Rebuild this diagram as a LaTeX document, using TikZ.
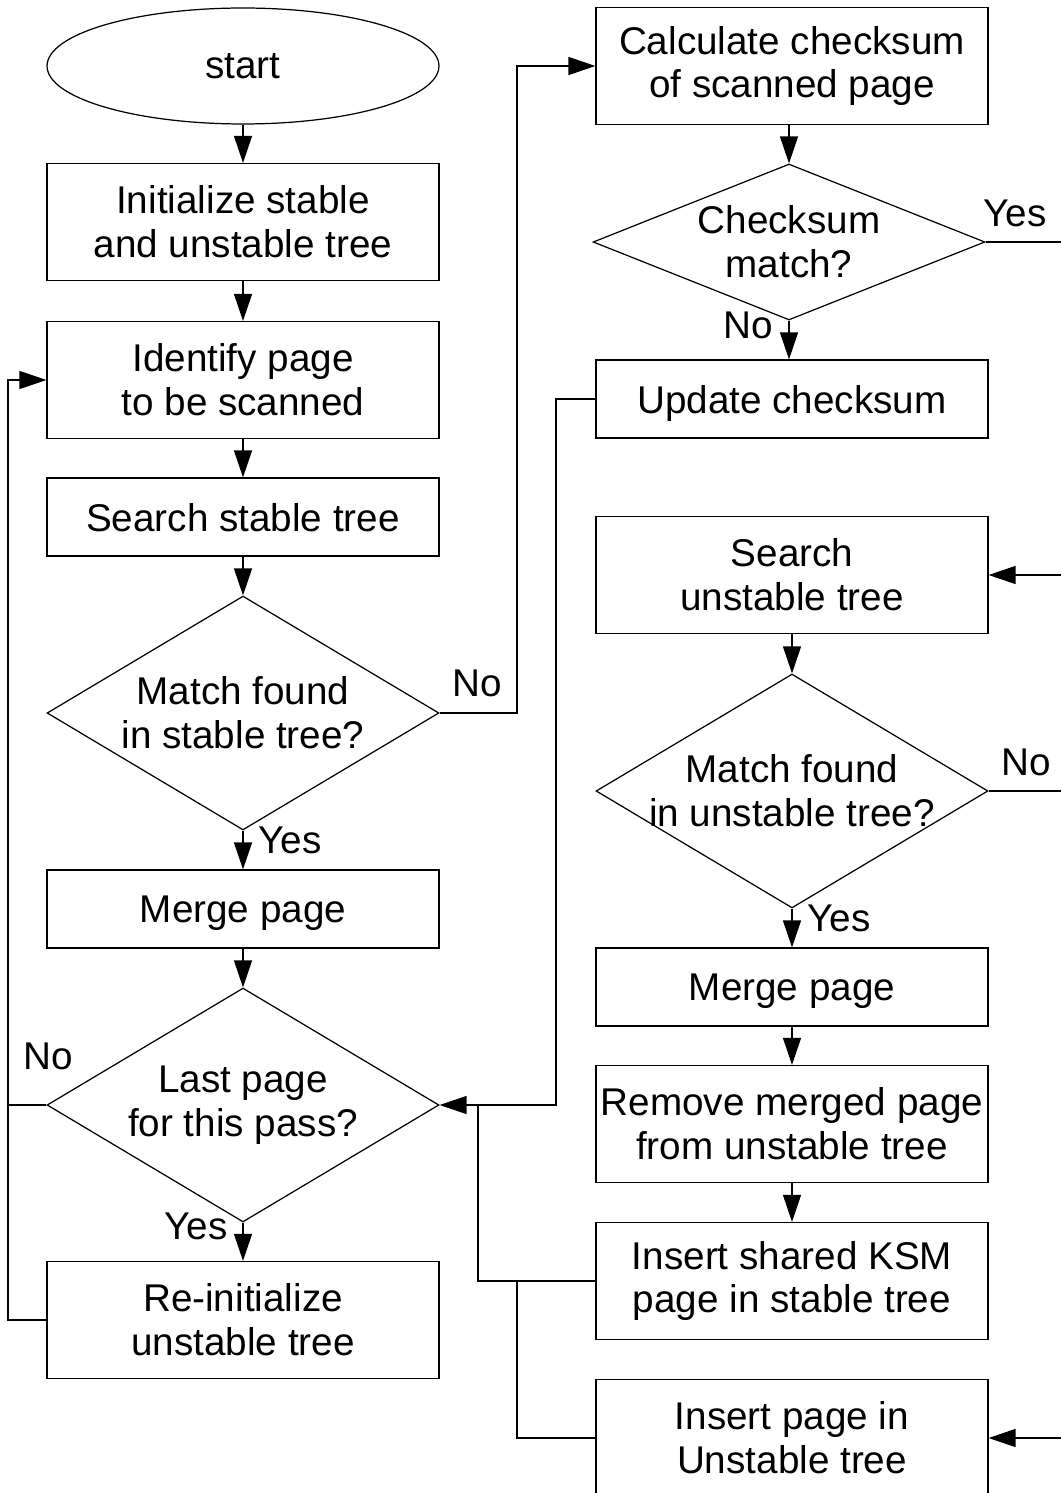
\documentclass[tikz,border=0pt]{standalone}
\usepackage{fontspec}
\setmainfont{Liberation Sans}
\usetikzlibrary{arrows.meta,shapes.geometric}

\tikzset{
  box/.style={draw, minimum width=7.84cm, minimum height=2.34cm, align=center, inner sep=0pt},
  lowbox/.style={box, minimum height=1.56cm, text depth=0pt},
  decide/.style={draw, diamond, aspect=1.675, minimum width=7.84cm, minimum height=4.68cm, align=center, inner sep=0pt},
  flow/.style={-{Triangle[length=5.4mm,width=3.6mm]}}
}

\begin{document}
\begin{tikzpicture}[x=0.02cm,y=-0.02cm,font=\fontsize{22}{25}\selectfont,line width=0.7pt]
  \useasboundingbox (0,0) rectangle (1061,1493);

  % left column
  \node[draw,ellipse,minimum width=7.84cm,minimum height=2.32cm] (start) at (243,66) {start};
  \node[box] (init) at (243,222) {Initialize stable\\and unstable tree};
  \node[box] (ident) at (243,380) {Identify page\\to be scanned};
  \node[lowbox] (sstable) at (243,517) {Search stable tree};
  \node[decide] (mstable) at (243,713) {Match found\\in stable tree?};
  \node[lowbox] (merge1) at (243,909) {Merge page};
  \node[decide] (last) at (243,1105) {Last page\\for this pass?};
  \node[box] (reinit) at (243,1320) {Re-initialize\\unstable tree};

  % right column
  \node[box] (calc) at (792,66) {Calculate checksum\\of scanned page};
  \node[decide,aspect=2.5,minimum height=3.12cm] (chk) at (789,242) {Checksum\\match?};
  \node[lowbox] (upd) at (792,399) {Update checksum};
  \node[box] (sunst) at (792,575) {Search\\unstable tree};
  \node[decide,inner xsep=-0.4cm] (munst) at (792,791) {Match found\\in unstable tree?};
  \node[lowbox] (merge2) at (792,987) {Merge page};
  \node[box] (remove) at (792,1124) {Remove merged page\\from unstable tree};
  \node[box] (ksm) at (792,1281) {Insert shared KSM\\page in stable tree};
  \node[box] (insert) at (792,1438) {Insert page in\\Unstable tree};

  \coordinate (lft) at (8,0);
  \coordinate (ksmret) at (478,0);
  \coordinate (gap) at (517,0);
  \coordinate (ret) at (556,0);
  \coordinate (rgt) at (1061,0);

  \draw[flow] (start) -- (init);
  \draw[flow] (init) -- (ident);
  \draw[flow] (ident) -- (sstable);
  \draw[flow] (sstable) -- (mstable);
  \draw[flow] (mstable) -- (merge1);
  \draw[flow] (merge1) -- (last);
  \draw[flow] (last) -- (reinit);
  \draw[flow] (calc.south -| chk) -- (chk);
  \draw[flow] (chk.south) -- (chk.south |- upd.north);
  \draw[flow] (sunst) -- (munst);
  \draw[flow] (munst) -- (merge2);
  \draw[flow] (merge2) -- (remove);
  \draw[flow] (remove) -- (ksm);

  \draw[flow] (reinit.west) -- (reinit.west -| lft) |- (ident.west);
  \draw (last.west) -- (last.west -| lft);
  \draw[flow] (mstable.east) -- (mstable.east -| gap) |- (calc.west);
  \draw[flow] (upd.west) -- (upd.west -| ret) |- (last.east);
  \draw (ksm.west) -- (ksm.west -| ksmret) -- (ksmret |- last.east);
  \draw (insert.west) -- (insert.west -| gap) -- (gap |- ksm.west);
  \draw (chk.east) -- (chk.east -| rgt);
  \draw[flow] (sunst.east -| rgt) -- (sunst.east);
  \draw (munst.east) -- (munst.east -| rgt);
  \draw[flow] (insert.east -| rgt) -- (insert.east);

  \node (yes1) at (1015,213) {Yes};
  \node (no1) at (748,325) {No};
  \node (no2) at (477,683) {No};
  \node (yes2) at (290,840) {Yes};
  \node (no3) at (48,1056) {No};
  \node (yes3) at (196,1226) {Yes};
  \node (no4) at (1026,762) {No};
  \node (yes4) at (839,918) {Yes};
\end{tikzpicture}
\end{document}
